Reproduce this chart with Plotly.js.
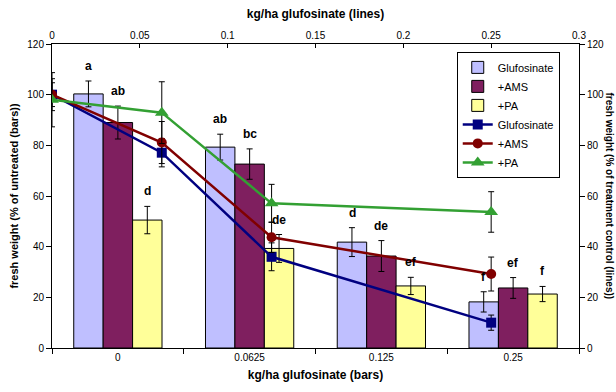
<!DOCTYPE html>
<html><head><meta charset="utf-8">
<script src="https://cdn.plot.ly/plotly-3.0.1.min.js"></script>
<style>html,body{margin:0;padding:0;background:#fff;}#chart{width:616px;height:392px;}</style>
</head><body><div id="chart"></div>
<script>
// Bar data (% of untreated), categories = kg/ha glufosinate
var barCategories = ['0', '0.0625', '0.125', '0.25'];
var barGluf = [100.3, 79.3, 41.8, 18.2];
var barGlufErr = [5.1, 5.1, 5.7, 4.0];
var barAms = [89.0, 72.6, 36.3, 23.7];
var barAmsErr = [6.5, 6.0, 6.1, 4.1];
var barPa = [50.5, 39.3, 24.5, 21.3];
var barPaErr = [5.4, 5.5, 3.4, 3.0];
var lettersGluf = ['a', 'ab', 'd', 'f'];
var lettersAms = ['ab', 'bc', 'de', 'ef'];
var lettersPa = ['d', 'de', 'ef', 'f'];

// Line data (% of treatment control), x = kg/ha glufosinate
var lineRates = [0, 0.0625, 0.125, 0.25];
var lineGluf = [100, 77.1, 36.0, 10.0];
var lineGlufErr = [6.3, 5.6, 5.5, 3.0];
var lineAms = [100, 81.1, 43.7, 29.2];
var lineAmsErr = [4.7, 8.3, 6.0, 6.7];
var linePa = [98, 92.9, 57.1, 53.7];
var linePaErr = [10.7, 12.2, 7.5, 8.0];

var font = 'Liberation Sans, Arial, sans-serif';
var errStyle = function (arr) {
  return {type: 'data', array: arr, visible: true, color: '#000', thickness: 1, width: 3};
};

var traces = [
  {type: 'bar', name: 'Glufosinate', x: barCategories, y: barGluf, error_y: errStyle(barGlufErr),
   marker: {color: '#BFBFFF', line: {color: '#000', width: 1}}, xaxis: 'x', yaxis: 'y'},
  {type: 'bar', name: '+AMS', x: barCategories, y: barAms, error_y: errStyle(barAmsErr),
   marker: {color: '#7F1F5F', line: {color: '#000', width: 1}}, xaxis: 'x', yaxis: 'y'},
  {type: 'bar', name: '+PA', x: barCategories, y: barPa, error_y: errStyle(barPaErr),
   marker: {color: '#FFFF99', line: {color: '#000', width: 1}}, xaxis: 'x', yaxis: 'y'},
  {type: 'scatter', mode: 'lines+markers', name: 'Glufosinate', x: lineRates, y: lineGluf,
   error_y: errStyle(lineGlufErr), line: {color: '#000080', width: 2.5},
   marker: {symbol: 'square', size: 10, color: '#000080'}, xaxis: 'x2', yaxis: 'y2'},
  {type: 'scatter', mode: 'lines+markers', name: '+AMS', x: lineRates, y: lineAms,
   error_y: errStyle(lineAmsErr), line: {color: '#800000', width: 2.5},
   marker: {symbol: 'circle', size: 10, color: '#800000'}, xaxis: 'x2', yaxis: 'y2'},
  {type: 'scatter', mode: 'lines+markers', name: '+PA', x: lineRates, y: linePa,
   error_y: errStyle(linePaErr), line: {color: '#33A033', width: 2.5},
   marker: {symbol: 'triangle-up', size: 12, color: '#33A033'}, xaxis: 'x2', yaxis: 'y2'}
];

var annotations = [];
var groups = [[barGluf, barGlufErr, lettersGluf, -29.3], [barAms, barAmsErr, lettersAms, 0], [barPa, barPaErr, lettersPa, 29.3]];
groups.forEach(function (g) {
  for (var i = 0; i < barCategories.length; i++) {
    annotations.push({x: i, y: g[0][i] + g[1][i], xref: 'x', yref: 'y',
      text: g[2][i], showarrow: false, xshift: g[3], yshift: 6, yanchor: 'bottom',
      font: {family: font, size: 12, color: '#000', weight: 'bold'}});
  }
});
annotations.push({xref: 'paper', yref: 'paper', x: 1.058, y: 0.5, xanchor: 'center', yanchor: 'middle',
  textangle: 90, showarrow: false, text: '<b>fresh weight (% of treatment control (lines))</b>',
  font: {family: font, size: 10, color: '#000'}});

var layout = {
  width: 616, height: 392,
  margin: {l: 52, r: 37, t: 44, b: 44},
  paper_bgcolor: '#fff', plot_bgcolor: '#fff',
  font: {family: font, size: 10, color: '#000'},
  barmode: 'group', bargap: 0.33, bargroupgap: 0,
  showlegend: true,
  legend: {x: 0.768, y: 0.974, xanchor: 'left', yanchor: 'top', bgcolor: '#fff',
    bordercolor: '#000', borderwidth: 1, font: {family: font, size: 11}, tracegroupgap: 0,
    itemwidth: 30},
  xaxis: {type: 'category', showline: true, linecolor: '#000', linewidth: 1,
    ticks: 'outside', ticklen: 5, tickcolor: '#000', tickson: 'boundaries', showgrid: false,
    zeroline: false, tickfont: {size: 10}, mirror: false,
    title: {text: '<b>kg/ha glufosinate (bars)</b>', font: {size: 12}, standoff: 8}},
  yaxis: {range: [0, 120], dtick: 20, showline: true, linecolor: '#000', linewidth: 1,
    ticks: 'outside', ticklen: 5, tickcolor: '#000', showgrid: false, zeroline: false,
    tickfont: {size: 10},
    title: {text: '<b>fresh weight (% of untreated (bars))</b>', font: {size: 11}, standoff: 6}},
  xaxis2: {overlaying: 'x', side: 'top', range: [0, 0.3], dtick: 0.05, showline: true,
    linecolor: '#000', linewidth: 1, ticks: 'inside', ticklen: 4, tickcolor: '#000',
    showgrid: false, zeroline: false, tickfont: {size: 10}, anchor: 'y2',
    title: {text: '<b>kg/ha glufosinate (lines)</b>', font: {size: 12}, standoff: 8}},
  yaxis2: {overlaying: 'y', side: 'right', range: [0, 120], dtick: 20, showline: true,
    linecolor: '#000', linewidth: 1, ticks: 'outside', ticklen: 5, tickcolor: '#000',
    showgrid: false, zeroline: false, tickfont: {size: 10}, anchor: 'x2'},
  annotations: annotations
};

Plotly.newPlot('chart', traces, layout, {displayModeBar: false, staticPlot: true});
</script>
</body></html>
